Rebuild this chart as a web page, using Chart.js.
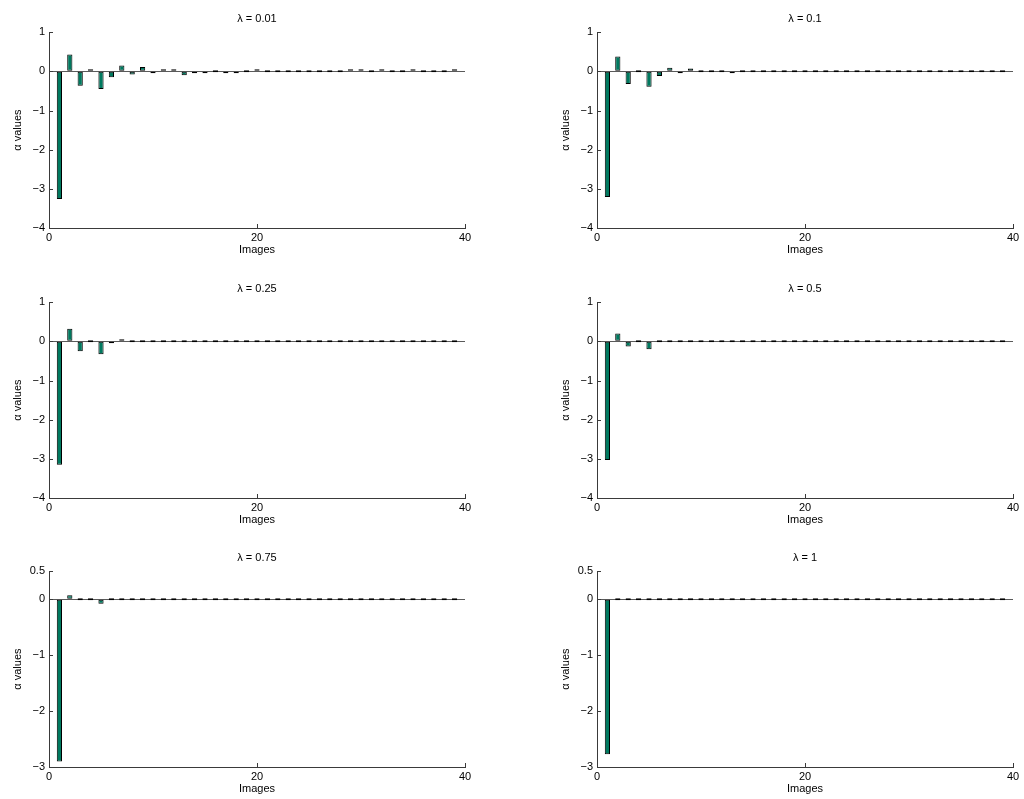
<!DOCTYPE html>
<html>
<head>
<meta charset="utf-8">
<script src="https://cdn.jsdelivr.net/npm/chart.js@4/dist/chart.umd.min.js"></script>
<style>
  html, body { margin: 0; padding: 0; background: #fff; overflow: hidden; }
  .panel { position: absolute; width: 480px; height: 260px; }
</style>
</head>
<body>
<div class="panel" style="left:0px;top:0px"><canvas id="c1" width="480" height="260"></canvas></div>
<div class="panel" style="left:548px;top:0px"><canvas id="c2" width="480" height="260"></canvas></div>
<div class="panel" style="left:0px;top:270px"><canvas id="c3" width="480" height="260"></canvas></div>
<div class="panel" style="left:548px;top:270px"><canvas id="c4" width="480" height="260"></canvas></div>
<div class="panel" style="left:0px;top:539px"><canvas id="c5" width="480" height="260"></canvas></div>
<div class="panel" style="left:548px;top:539px"><canvas id="c6" width="480" height="260"></canvas></div>
<script>
// Image index (x positions of the bars)
const images = [1, 2, 3, 4, 5, 6, 7, 8, 9, 10, 11, 12, 13, 14, 15, 16, 17, 18, 19, 20,
                21, 22, 23, 24, 25, 26, 27, 28, 29, 30, 31, 32, 33, 34, 35, 36, 37, 38, 39];

// Alpha values for each lambda
const alphaL001 = [-3.26, 0.43, -0.37, 0.03, -0.45, -0.15, 0.15, -0.08, 0.11, -0.01,
                   0.01, 0.04, -0.10, -0.04, -0.01, 0, -0.01, -0.01, 0, 0.05,
                   0, 0, 0, 0, 0, 0, 0, 0, 0.03, 0.01,
                   0, 0.02, 0, 0, 0.01, 0, 0, 0, 0.05];
const alphaL01  = [-3.21, 0.38, -0.32, 0, -0.39, -0.12, 0.09, -0.03, 0.07, 0,
                   0, 0, -0.05, 0, 0, 0, 0, 0, 0, 0,
                   0, 0, 0, 0, 0, 0, 0, 0, 0, 0,
                   0, 0, 0, 0, 0, 0, 0, 0, 0];
const alphaL025 = [-3.15, 0.32, -0.25, 0, -0.33, -0.05, 0.02, 0, 0, 0,
                   0, 0, 0, 0, 0, 0, 0, 0, 0, 0,
                   0, 0, 0, 0, 0, 0, 0, 0, 0, 0,
                   0, 0, 0, 0, 0, 0, 0, 0, 0];
const alphaL05  = [-3.03, 0.20, -0.13, 0, -0.20, 0, 0, 0, 0, 0,
                   0, 0, 0, 0, 0, 0, 0, 0, 0, 0,
                   0, 0, 0, 0, 0, 0, 0, 0, 0, 0,
                   0, 0, 0, 0, 0, 0, 0, 0, 0];
const alphaL075 = [-2.90, 0.07, 0, 0, -0.08, 0, 0, 0, 0, 0,
                   0, 0, 0, 0, 0, 0, 0, 0, 0, 0,
                   0, 0, 0, 0, 0, 0, 0, 0, 0, 0,
                   0, 0, 0, 0, 0, 0, 0, 0, 0];
const alphaL1   = [-2.77, 0, 0, 0, 0, 0, 0, 0, 0, 0,
                   0, 0, 0, 0, 0, 0, 0, 0, 0, 0,
                   0, 0, 0, 0, 0, 0, 0, 0, 0, 0,
                   0, 0, 0, 0, 0, 0, 0, 0, 0];

// Panel titles
const titles = ['λ = 0.01', 'λ = 0.1', 'λ = 0.25', 'λ = 0.5', 'λ = 0.75', 'λ = 1'];

// Tick labels
const xTicks = [0, 20, 40];
const yTicksTall = [-4, -3, -2, -1, 0, 1];
const yTicksShort = [-3, -2, -1, 0, 0.5];

const FONT = '"Liberation Sans", Arial, Helvetica, sans-serif';
const AXIS_COLOR = '#3a3a3a';

// Draw short tick marks pointing into the plot, like MATLAB does
const inwardTicks = {
    id: 'inwardTicks',
    afterDatasetsDraw(chart) {
        const ctx = chart.ctx;
        const area = chart.chartArea;
        const xs = chart.scales.x;
        const ys = chart.scales.y;
        ctx.save();
        ctx.strokeStyle = AXIS_COLOR;
        ctx.lineWidth = 1;
        ctx.beginPath();
        ys.ticks.forEach(t => {
            const py = Math.round(ys.getPixelForValue(t.value)) + 0.5;
            ctx.moveTo(area.left, py);
            ctx.lineTo(area.left + 4, py);
        });
        xs.ticks.forEach(t => {
            const px = Math.round(xs.getPixelForValue(t.value)) + 0.5;
            ctx.moveTo(px, area.bottom);
            ctx.lineTo(px, area.bottom - 4);
        });
        ctx.stroke();
        ctx.restore();
    }
};

// Build one subplot
function makePanel(canvasId, title, values, yTicks) {
    const points = images.map((x, i) => ({ x: x, y: values[i] }));

    new Chart(document.getElementById(canvasId), {
        type: 'bar',
        data: {
            datasets: [{
                data: points,
                backgroundColor: '#00795f',
                borderColor: '#000',
                borderWidth: 1,
                borderSkipped: false,
                minBarLength: 2,
                barPercentage: 0.5,
                categoryPercentage: 1
            }]
        },
        options: {
            responsive: false,
            animation: false,
            events: [],
            layout: { padding: { right: 15 } },
            plugins: {
                legend: { display: false },
                tooltip: { enabled: false },
                title: {
                    display: true,
                    text: title,
                    fullSize: false,
                    color: '#000',
                    font: { family: FONT, size: 11, weight: 'normal' },
                    padding: { top: 12, bottom: 7 }
                }
            },
            scales: {
                x: {
                    type: 'linear',
                    min: 0,
                    max: 40,
                    offset: false,
                    afterFit: s => { s.height = 32; },
                    afterBuildTicks: s => { s.ticks = xTicks.map(v => ({ value: v })); },
                    grid: { display: false, drawTicks: false, offset: false },
                    border: { display: true, color: AXIS_COLOR },
                    ticks: {
                        color: '#000',
                        padding: 3,
                        maxRotation: 0,
                        font: { family: FONT, size: 11 }
                    },
                    title: {
                        display: true,
                        text: 'Images',
                        color: '#000',
                        font: { family: FONT, size: 11 },
                        padding: { top: 0, bottom: 3 }
                    }
                },
                y: {
                    min: yTicks[0],
                    max: yTicks[yTicks.length - 1],
                    afterFit: s => { s.width = 49; },
                    afterBuildTicks: s => { s.ticks = yTicks.map(v => ({ value: v })); },
                    grid: {
                        drawTicks: false,
                        color: c => (c.tick && c.tick.value === 0) ? '#5a5a5a' : 'rgba(0,0,0,0)'
                    },
                    border: { display: true, color: AXIS_COLOR },
                    ticks: {
                        color: '#000',
                        padding: 4,
                        font: { family: FONT, size: 11 },
                        callback: v => String(v).replace('-', '\u2212')
                    },
                    title: {
                        display: true,
                        text: 'α values',
                        color: '#000',
                        font: { family: FONT, size: 11 },
                        padding: { top: 11, bottom: 0 }
                    }
                }
            }
        },
        plugins: [inwardTicks]
    });
}

makePanel('c1', titles[0], alphaL001, yTicksTall);
makePanel('c2', titles[1], alphaL01, yTicksTall);
makePanel('c3', titles[2], alphaL025, yTicksTall);
makePanel('c4', titles[3], alphaL05, yTicksTall);
makePanel('c5', titles[4], alphaL075, yTicksShort);
makePanel('c6', titles[5], alphaL1, yTicksShort);
</script>
</body>
</html>
